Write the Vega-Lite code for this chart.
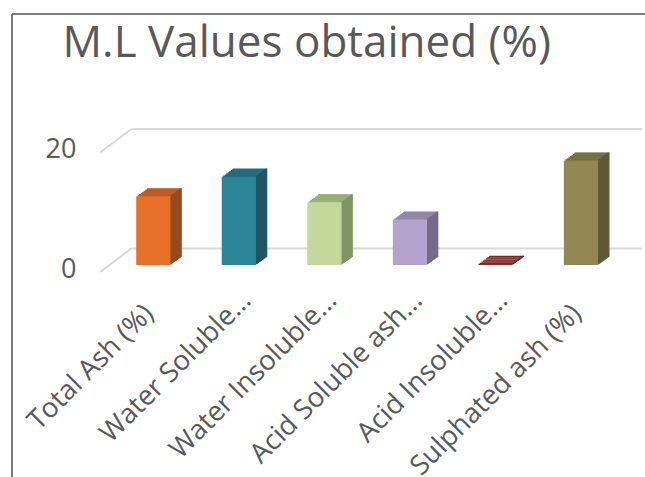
{
  "$schema": "https://vega.github.io/schema/vega-lite/v6.json",
  "autosize": {"type": "none"},
  "padding": {"left": 12, "top": 14, "right": 0, "bottom": 0},
  "width": 633,
  "height": 463,
  "background": "#ffffff",
  "view": {"stroke": "#505050", "strokeWidth": 1.5, "strokeDash": [633, 1096, 463, 0]},
  "datasets": {
    "bars": [
      {"cat": "Total Ash (%)", "v": 11.5},
      {"cat": "Water Soluble…", "v": 14.8},
      {"cat": "Water Insoluble…", "v": 10.5},
      {"cat": "Acid Soluble ash…", "v": 7.6},
      {"cat": "Acid Insoluble…", "v": 0.2},
      {"cat": "Sulphated ash (%)", "v": 17.5}
    ],
    "grid": [{"g": 0}, {"g": 20}]
  },
  "data": {"name": "bars"},
  "encoding": {
    "x": {
      "field": "cat", "type": "nominal", "title": null,
      "scale": {"domain": ["Total Ash (%)", "Water Soluble…", "Water Insoluble…", "Acid Soluble ash…", "Acid Insoluble…", "Sulphated ash (%)"], "paddingInner": 0.6, "paddingOuter": 1.05, "align": 0.726},
      "axis": null
    },
    "y": {
      "field": "v", "type": "quantitative", "title": "M.L Values obtained (%)",
      "scale": {"domain": [-35.48, 42.01], "nice": false, "zero": false},
      "axis": {"orient": "left", "offset": -64, "values": [0, 20], "labelPadding": 0, "tickSize": 0, "ticks": false, "domain": false, "grid": false, "labelOffset": 4, "labelFont": "Open Sans", "labelFontSize": 27, "labelColor": "#595959",
        "titleAngle": 0, "titleX": -14, "titleY": 42, "titleAlign": "left", "titleBaseline": "alphabetic", "titleFont": "Open Sans", "titleFontSize": 44, "titleFontWeight": "normal", "titleColor": "#595959", "titleLimit": 600}
    }
  },
  "layer": [
    {
      "data": {"name": "grid"},
      "mark": {"type": "rule", "color": "#D9D9D9", "strokeWidth": 2, "yOffset": -16.5},
      "encoding": {
        "y": {"field": "g", "type": "quantitative", "title": "M.L Values obtained (%)"},
        "x": {"datum": "Total Ash (%)", "bandPosition": -0.14, "axis": null},
        "x2": {"datum": "Sulphated ash (%)", "bandPosition": 2.29}
      }
    },
    {
      "data": {"name": "grid"},
      "mark": {"type": "rule", "color": "#D9D9D9", "strokeWidth": 2, "yOffset": 7, "y2Offset": -16.5},
      "encoding": {
        "y": {"field": "g", "type": "quantitative", "title": "M.L Values obtained (%)"},
        "y2": {"field": "g"},
        "x": {"datum": "Total Ash (%)", "bandPosition": -1.054, "axis": null},
        "x2": {"datum": "Total Ash (%)", "bandPosition": -0.14}
      }
    },
    {
      "encoding": {
        "color": {"field": "cat", "type": "nominal", "legend": null, "scale": {"domain": ["Total Ash (%)", "Water Soluble…", "Water Insoluble…", "Acid Soluble ash…", "Acid Insoluble…", "Sulphated ash (%)"], "range": ["#BF5A22", "#236A7B", "#9AAE76", "#9284A8", "#7B2521", "#777043"]}},
        "x": {
          "field": "cat", "type": "nominal", "title": null,
          "axis": {"orient": "bottom", "values": ["Water Soluble…", "Water Insoluble…", "Acid Soluble ash…", "Acid Insoluble…"], "offset": -183, "labelAngle": -45, "labelAlign": "right", "labelBaseline": "middle", "labelPadding": 2, "labelOffset": 8, "labelFont": "Open Sans", "labelFontSize": 27.5, "labelColor": "#595959", "labelLimit": 400, "labelOverlap": false, "labelBound": false, "domain": false, "ticks": false, "grid": false}
        },
        "y2": {"datum": 0}
      },
      "layer": [
        {"mark": {"type": "bar", "xOffset": 1.5, "x2Offset": 1.5, "yOffset": -1.095, "y2Offset": -1.095}},
        {"mark": {"type": "bar", "xOffset": 3, "x2Offset": 3, "yOffset": -2.19, "y2Offset": -2.19}},
        {"mark": {"type": "bar", "xOffset": 4.5, "x2Offset": 4.5, "yOffset": -3.285, "y2Offset": -3.285}},
        {"mark": {"type": "bar", "xOffset": 6, "x2Offset": 6, "yOffset": -4.38, "y2Offset": -4.38}},
        {"mark": {"type": "bar", "xOffset": 7.5, "x2Offset": 7.5, "yOffset": -5.475, "y2Offset": -5.475}},
        {"mark": {"type": "bar", "xOffset": 9, "x2Offset": 9, "yOffset": -6.57, "y2Offset": -6.57}},
        {"mark": {"type": "bar", "xOffset": 10.5, "x2Offset": 10.5, "yOffset": -7.665, "y2Offset": -7.665}},
        {"mark": {"type": "bar", "xOffset": 11, "x2Offset": 11, "yOffset": -8.03, "y2Offset": -8.03}}
      ]
    },
    {
      "encoding": {
        "color": {"field": "cat", "type": "nominal", "legend": null, "scale": {"domain": ["Total Ash (%)", "Water Soluble…", "Water Insoluble…", "Acid Soluble ash…", "Acid Insoluble…", "Sulphated ash (%)"], "range": ["#954A20", "#1F5666", "#7F9463", "#776B8A", "#5F1C18", "#5F5937"]}},
        "x": {"field": "cat", "type": "nominal", "title": null, "bandPosition": 1, "axis": null},
        "y2": {"datum": 0}
      },
      "layer": [
        {"mark": {"type": "rule", "strokeWidth": 1.6, "xOffset": 0.5, "yOffset": -0.73, "y2Offset": -0.73}},
        {"mark": {"type": "rule", "strokeWidth": 1.6, "xOffset": 1.5, "yOffset": -1.46, "y2Offset": -1.46}},
        {"mark": {"type": "rule", "strokeWidth": 1.6, "xOffset": 2.5, "yOffset": -2.19, "y2Offset": -2.19}},
        {"mark": {"type": "rule", "strokeWidth": 1.6, "xOffset": 3.5, "yOffset": -2.92, "y2Offset": -2.92}},
        {"mark": {"type": "rule", "strokeWidth": 1.6, "xOffset": 4.5, "yOffset": -3.65, "y2Offset": -3.65}},
        {"mark": {"type": "rule", "strokeWidth": 1.6, "xOffset": 5.5, "yOffset": -4.38, "y2Offset": -4.38}},
        {"mark": {"type": "rule", "strokeWidth": 1.6, "xOffset": 6.5, "yOffset": -5.11, "y2Offset": -5.11}},
        {"mark": {"type": "rule", "strokeWidth": 1.6, "xOffset": 7.5, "yOffset": -5.84, "y2Offset": -5.84}},
        {"mark": {"type": "rule", "strokeWidth": 1.6, "xOffset": 8.5, "yOffset": -6.57, "y2Offset": -6.57}},
        {"mark": {"type": "rule", "strokeWidth": 1.6, "xOffset": 9.5, "yOffset": -7.3, "y2Offset": -7.3}},
        {"mark": {"type": "rule", "strokeWidth": 1.6, "xOffset": 10.5, "yOffset": -8.03, "y2Offset": -8.03}}
      ]
    },
    {
      "mark": {"type": "bar"},
      "encoding": {
        "color": {"field": "cat", "type": "nominal", "legend": null, "scale": {"domain": ["Total Ash (%)", "Water Soluble…", "Water Insoluble…", "Acid Soluble ash…", "Acid Insoluble…", "Sulphated ash (%)"], "range": ["#E8712A", "#2B8497", "#C4D89C", "#B4A3CC", "#8C2A24", "#928752"]}},
        "x": {
          "field": "cat", "type": "nominal", "title": null,
          "axis": {"orient": "bottom", "values": ["Total Ash (%)", "Sulphated ash (%)"], "offset": -170, "labelAngle": -45, "labelAlign": "right", "labelBaseline": "middle", "labelPadding": 2, "labelOffset": -4, "labelFont": "Open Sans", "labelFontSize": 27.5, "labelColor": "#595959", "labelLimit": 400, "labelOverlap": false, "labelBound": false, "domain": false, "ticks": false, "grid": false}
        },
        "y2": {"datum": 0}
      }
    }
  ],
  "resolve": {"scale": {"color": "independent"}, "axis": {"x": "independent"}}
}
